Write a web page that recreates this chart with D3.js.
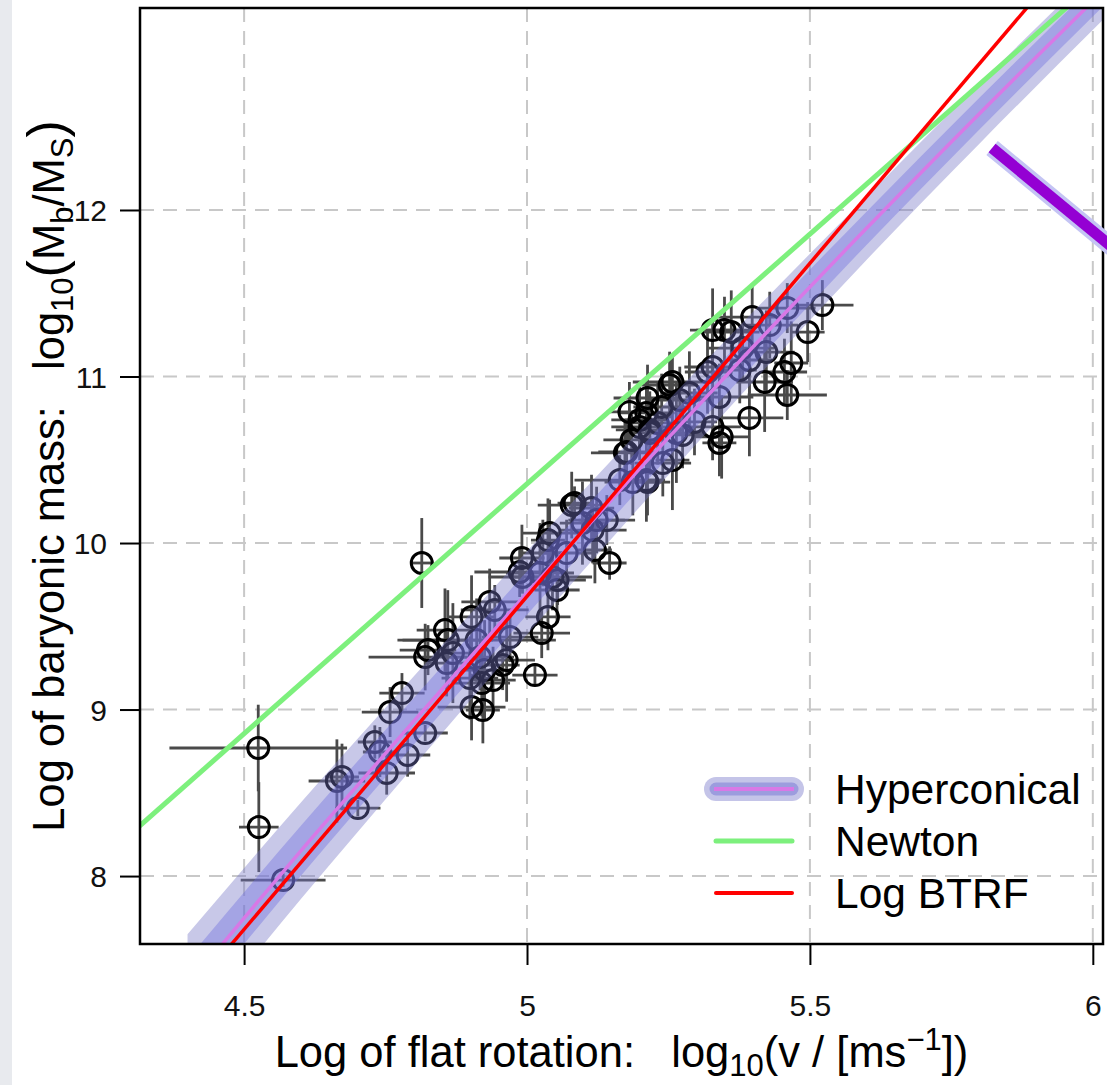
<!DOCTYPE html>
<html>
<head>
<meta charset="utf-8">
<script src="https://cdn.jsdelivr.net/npm/d3@7"></script>
<style>
  body { margin: 0; background: #fff; }
  svg { display: block; font-family: "Liberation Sans", Arial, sans-serif; }
  text { white-space: pre; }
</style>
</head>
<body>
<svg id="chart" width="1107" height="1085"></svg>
<script>
// galaxies: log10 flat rotation speed, log10 baryonic mass, and their errors
const logV = [
  4.525, 4.526, 4.569, 4.664, 4.673, 4.701, 4.731, 4.740, 4.758, 4.779,
  4.789, 4.752, 4.820, 4.814, 4.820, 4.825, 4.855, 4.860, 4.869, 4.858,
  4.902, 4.934, 4.943, 4.911, 4.917, 4.899, 4.920, 4.940, 4.964, 4.970,
  4.902, 4.922, 4.957, 4.925, 4.991, 4.992, 5.040, 5.028, 5.054, 5.053,
  5.037, 5.026, 5.014, 5.079, 5.084, 5.114, 5.098, 5.123, 5.141, 5.116,
  5.120, 5.146, 5.037, 5.070, 5.023, 4.987, 5.045, 5.173, 5.185, 5.164,
  5.187, 5.211, 5.199, 5.217, 5.181, 5.176, 5.211, 5.217, 5.231, 5.213,
  5.238, 5.257, 5.252, 5.275, 5.264, 5.257, 5.240, 5.213, 5.287, 5.270,
  5.296, 5.328, 5.340, 5.344, 5.340, 5.328, 5.349, 5.361, 5.398, 5.429,
  5.460, 5.522, 5.496, 5.381, 5.423, 5.393, 5.328, 5.319, 5.376, 5.420,
  5.455, 5.467, 5.460, 5.393, 5.199
];
const logM = [
  8.769, 8.294, 7.976, 8.571, 8.595, 8.408, 8.805, 8.745, 8.985, 9.099,
  8.727, 8.619, 8.859, 9.880, 9.315, 9.357, 9.477, 9.417, 9.339, 9.279,
  9.556, 9.646, 9.598, 9.417, 9.315, 9.189, 9.159, 9.177, 9.297, 9.435,
  9.015, 8.997, 9.267, 9.237, 9.910, 9.796, 10.060, 9.940, 9.778, 9.718,
  9.556, 9.459, 9.207, 10.228, 10.240, 10.210, 10.120, 10.138, 10.138, 10.078,
  9.958, 9.880, 10.018, 9.940, 9.820, 9.826, 9.796, 10.541, 10.619, 10.378,
  10.366, 10.378, 10.697, 10.679, 10.787, 10.547, 10.781, 10.661, 10.721, 10.871,
  10.817, 10.967, 10.949, 10.649, 10.661, 10.498, 10.480, 10.366, 10.901, 10.859,
  10.727, 10.697, 10.877, 10.637, 10.601, 11.279, 11.279, 11.267, 11.357, 11.309,
  11.411, 11.429, 11.267, 11.171, 11.147, 11.099, 11.057, 11.027, 11.039, 10.967,
  11.027, 11.081, 10.889, 10.751, 10.739
];
const errV = [
  0.157, 0.035, 0.075, 0.05, 0.03, 0.04, 0.03, 0.03, 0.05, 0.04,
  0.04, 0.05, 0.04, 0.02, 0.10, 0.05, 0.05, 0.08, 0.03, 0.04,
  0.04, 0.05, 0.06, 0.14, 0.06, 0.05, 0.05, 0.04, 0.05, 0.05,
  0.06, 0.03, 0.03, 0.05, 0.04, 0.06, 0.05, 0.04, 0.05, 0.04,
  0.04, 0.05, 0.04, 0.06, 0.03, 0.04, 0.04, 0.05, 0.05, 0.06,
  0.03, 0.03, 0.03, 0.05, 0.06, 0.08, 0.07, 0.06, 0.05, 0.08,
  0.05, 0.03, 0.05, 0.06, 0.04, 0.05, 0.05, 0.04, 0.05, 0.06,
  0.05, 0.07, 0.05, 0.04, 0.05, 0.03, 0.05, 0.04, 0.05, 0.06,
  0.04, 0.05, 0.06, 0.05, 0.03, 0.04, 0.05, 0.05, 0.06, 0.05,
  0.05, 0.055, 0.03, 0.06, 0.05, 0.04, 0.05, 0.04, 0.03, 0.05,
  0.04, 0.03, 0.07, 0.06, 0.05
];
const errM = [
  0.26, 0.27, 0.04, 0.25, 0.2, 0.05, 0.1, 0.15, 0.15, 0.12,
  0.13, 0.13, 0.05, 0.27, 0.2, 0.15, 0.25, 0.3, 0.3, 0.2,
  0.25, 0.2, 0.15, 0.25, 0.2, 0.25, 0.2, 0.2, 0.25, 0.15,
  0.2, 0.2, 0.15, 0.3, 0.2, 0.1, 0.2, 0.2, 0.15, 0.2,
  0.2, 0.15, 0.06, 0.2, 0.1, 0.2, 0.25, 0.2, 0.15, 0.2,
  0.2, 0.1, 0.25, 0.2, 0.3, 0.15, 0.2, 0.2, 0.15, 0.15,
  0.2, 0.25, 0.2, 0.2, 0.18, 0.2, 0.2, 0.25, 0.25, 0.2,
  0.2, 0.15, 0.2, 0.2, 0.3, 0.3, 0.2, 0.2, 0.25, 0.2,
  0.2, 0.2, 0.2, 0.25, 0.2, 0.25, 0.2, 0.25, 0.2, 0.2,
  0.15, 0.15, 0.18, 0.2, 0.25, 0.2, 0.2, 0.25, 0.2, 0.3,
  0.2, 0.25, 0.15, 0.23, 0.2
];

// model curves
const hyperV = [4.40, 4.60, 4.80, 5.00, 5.20, 5.40, 5.60, 5.80, 6.05];
const hyperM = [7.34, 8.15, 8.93, 9.70, 10.45, 11.18, 11.89, 12.58, 13.42];
const outerHalf = [0.31, 0.29, 0.27, 0.25, 0.23, 0.21, 0.19, 0.18, 0.17];
const innerHalf = [0.16, 0.15, 0.14, 0.13, 0.12, 0.11, 0.10, 0.095, 0.09];
const newtonV = [4.30, 6.05];
const newtonM = [8.255, 13.505];
const btrfV = [4.40, 6.05];
const btrfM = [7.28, 13.88];

// annotation arrow stroke at the right
const arrowV = [5.822, 6.04];
const arrowM = [12.372, 11.76];

const xTicks = [4.5, 5, 5.5, 6];
const yTicks = [8, 9, 10, 11, 12];
const legendNames = ['Hyperconical', 'Newton', 'Log BTRF'];

const W = 1107, H = 1085;
const margin = { left: 140, top: 8, right: 4, bottom: 141 };
const pw = W - margin.left - margin.right;
const ph = H - margin.top - margin.bottom;

const svg = d3.select('#chart');

// light grey strip at the far left of the slide
svg.append('rect').attr('x', 0).attr('y', 0).attr('width', 12).attr('height', H).attr('fill', '#e8eaee');

const g = svg.append('g').attr('transform', `translate(${margin.left},${margin.top})`);

const x = d3.scaleLinear().domain([4.316, 6.018]).range([0, pw]);
const y = d3.scaleLinear().domain([7.592, 13.213]).range([ph, 0]);

g.append('clipPath').attr('id', 'plotClip')
  .append('rect').attr('width', pw).attr('height', ph);

// grid
const grid = g.append('g').attr('stroke', '#c8c8c8').attr('stroke-width', 2).attr('stroke-dasharray', '14,9');
grid.selectAll('.gx').data(xTicks).enter().append('line')
  .attr('x1', d => x(d)).attr('x2', d => x(d)).attr('y1', 0).attr('y2', ph);
grid.selectAll('.gy').data(yTicks).enter().append('line')
  .attr('x1', 0).attr('x2', pw).attr('y1', d => y(d)).attr('y2', d => y(d));

const plot = g.append('g').attr('clip-path', 'url(#plotClip)');

const pts = logV.map((v, i) => ({ v, m: logM[i], ev: errV[i], em: errM[i] }));

// error bars
const bars = plot.append('g').attr('stroke', '#4a4a4a').attr('stroke-width', 2.8);
bars.selectAll('.eh').data(pts).enter().append('line')
  .attr('x1', d => x(d.v - d.ev)).attr('x2', d => x(d.v + d.ev))
  .attr('y1', d => y(d.m)).attr('y2', d => y(d.m));
bars.selectAll('.ev').data(pts).enter().append('line')
  .attr('x1', d => x(d.v)).attr('x2', d => x(d.v))
  .attr('y1', d => y(d.m - d.em)).attr('y2', d => y(d.m + d.em));

// points
plot.append('g').selectAll('circle').data(pts).enter().append('circle')
  .attr('cx', d => x(d.v)).attr('cy', d => y(d.m)).attr('r', 10.5)
  .attr('fill', 'none').attr('stroke', '#000').attr('stroke-width', 3);

// hyperconical bands
const hyper = hyperV.map((v, i) => ({ v, m: hyperM[i], o: outerHalf[i], n: innerHalf[i] }));
const outerArea = d3.area().curve(d3.curveMonotoneX)
  .x(d => x(d.v)).y0(d => y(d.m - d.o)).y1(d => y(d.m + d.o));
const innerArea = d3.area().curve(d3.curveMonotoneX)
  .x(d => x(d.v)).y0(d => y(d.m - d.n)).y1(d => y(d.m + d.n));
plot.append('path').datum(hyper).attr('d', outerArea).attr('fill', 'rgb(117,117,197)').attr('fill-opacity', 0.4);
plot.append('path').datum(hyper).attr('d', innerArea).attr('fill', 'rgb(110,110,222)').attr('fill-opacity', 0.4);

const line = d3.line().curve(d3.curveMonotoneX).x(d => x(d[0])).y(d => y(d[1]));
plot.append('path').datum(newtonV.map((v, i) => [v, newtonM[i]]))
  .attr('d', line).attr('fill', 'none').attr('stroke', '#7df07d').attr('stroke-width', 5);
plot.append('path').datum(hyperV.map((v, i) => [v, hyperM[i]]))
  .attr('d', line).attr('fill', 'none').attr('stroke', '#d878e6').attr('stroke-width', 3.5);
plot.append('path').datum(btrfV.map((v, i) => [v, btrfM[i]]))
  .attr('d', line).attr('fill', 'none').attr('stroke', '#ff0000').attr('stroke-width', 3.5);

// frame
g.append('rect').attr('width', pw).attr('height', ph)
  .attr('fill', 'none').attr('stroke', '#000').attr('stroke-width', 2.5);

// axes
const xAxis = g.append('g').attr('transform', `translate(0,${ph})`)
  .call(d3.axisBottom(x).tickValues(xTicks).tickSize(21).tickPadding(30).tickFormat(d3.format('')));
const yAxis = g.append('g')
  .call(d3.axisLeft(y).tickValues(yTicks).tickSize(20).tickPadding(13).tickFormat(d3.format('')));
[xAxis, yAxis].forEach(a => {
  a.select('.domain').remove();
  a.selectAll('.tick line').attr('stroke', '#000').attr('stroke-width', 2);
  a.selectAll('.tick text').attr('font-size', 30).attr('fill', '#111')
    .attr('font-family', '"Liberation Sans", Arial, sans-serif');
});
yAxis.selectAll('.tick text').attr('dy', '0.36em');

// axis titles
const xt = svg.append('text').attr('x', margin.left + pw / 2).attr('y', 1067)
  .attr('text-anchor', 'middle').attr('font-size', 43.5).attr('fill', '#000');
xt.append('tspan').text('Log of flat rotation:   log');
xt.append('tspan').attr('font-size', 31).attr('dy', 9).text('10');
xt.append('tspan').attr('dy', -9).text('(v / [ms');
xt.append('tspan').attr('font-size', 31).attr('dy', -17).text('\u22121');
xt.append('tspan').attr('dy', 17).text('])');

const yt = svg.append('text')
  .attr('transform', `translate(64,${margin.top + ph / 2}) rotate(-90)`)
  .attr('text-anchor', 'middle').attr('font-size', 43.5).attr('fill', '#000');
yt.append('tspan').text('Log of baryonic mass:   log');
yt.append('tspan').attr('font-size', 31).attr('dy', 9).text('10');
yt.append('tspan').attr('dy', -9).attr('font-size', 52).text('(');
yt.append('tspan').text('M');
yt.append('tspan').attr('font-size', 31).attr('dy', 9).text('b');
yt.append('tspan').attr('dy', -9).text('/M');
yt.append('tspan').attr('font-size', 31).attr('dy', 9).text('S');
yt.append('tspan').attr('dy', -9).attr('font-size', 52).text(')');

// legend
const leg = svg.append('g');
const rowY = i => 789 + i * 52;
const lx1 = 716, lx2 = 792;
leg.append('line').attr('x1', lx1).attr('x2', lx2).attr('y1', rowY(0)).attr('y2', rowY(0))
  .attr('stroke', '#c4c4e8').attr('stroke-width', 24).attr('stroke-linecap', 'round');
leg.append('line').attr('x1', lx1).attr('x2', lx2).attr('y1', rowY(0)).attr('y2', rowY(0))
  .attr('stroke', '#9c9cde').attr('stroke-width', 13).attr('stroke-linecap', 'round');
leg.append('line').attr('x1', lx1 - 2).attr('x2', lx2 + 2).attr('y1', rowY(0)).attr('y2', rowY(0))
  .attr('stroke', '#d878e6').attr('stroke-width', 4);
leg.append('line').attr('x1', lx1).attr('x2', lx2).attr('y1', rowY(1)).attr('y2', rowY(1))
  .attr('stroke', '#7df07d').attr('stroke-width', 5).attr('stroke-linecap', 'round');
leg.append('line').attr('x1', lx1).attr('x2', lx2).attr('y1', rowY(2)).attr('y2', rowY(2))
  .attr('stroke', '#ff0000').attr('stroke-width', 4).attr('stroke-linecap', 'round');
leg.selectAll('text').data(legendNames).enter().append('text')
  .attr('x', 835).attr('y', (d, i) => rowY(i) + 15)
  .attr('font-size', 42.5).attr('fill', '#000').text(d => d);

// purple annotation stroke
const arrowPts = arrowV.map((v, i) => [x(v) + margin.left, y(arrowM[i]) + margin.top]);
svg.append('path').attr('d', d3.line()(arrowPts)).attr('stroke', '#c4c4f4').attr('stroke-width', 18).attr('fill', 'none');
svg.append('path').attr('d', d3.line()(arrowPts)).attr('stroke', '#9400d3').attr('stroke-width', 11).attr('fill', 'none');
</script>
</body>
</html>
